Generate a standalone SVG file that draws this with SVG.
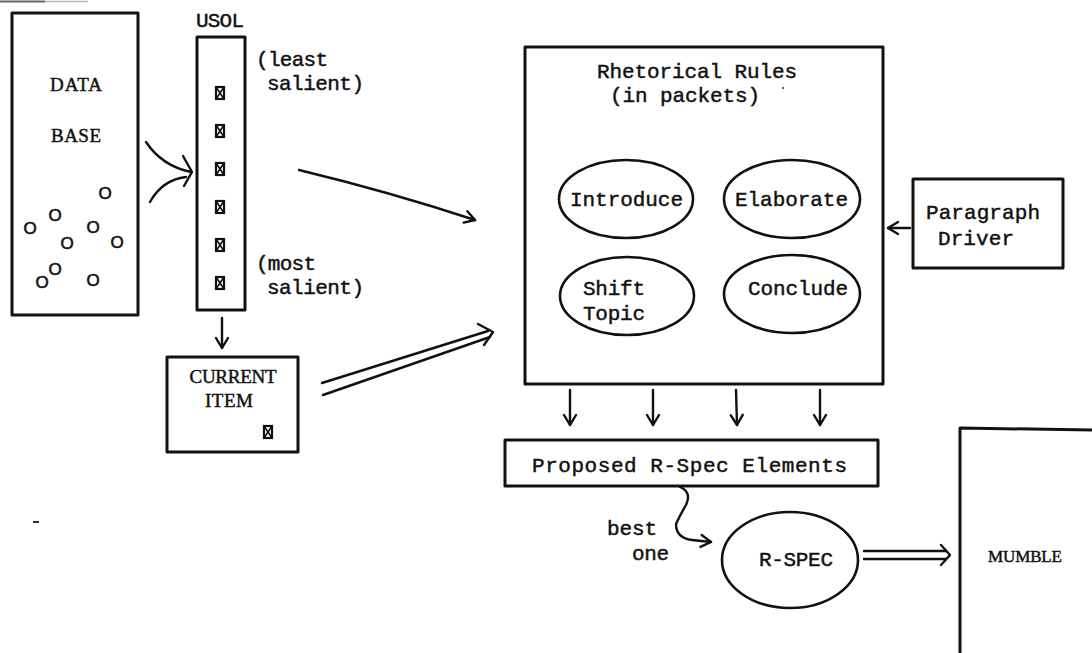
<svg xmlns="http://www.w3.org/2000/svg" width="1092" height="653" viewBox="0 0 1092 653">
  <style>
    .box { fill: none; stroke: #111; stroke-width: 3; stroke-linejoin: round; }
    .oval { fill: none; stroke: #111; stroke-width: 2.6; }
    .line { fill: none; stroke: #111; stroke-width: 2.4; stroke-linecap: round; stroke-linejoin: round; }
    .mono { font-family: "Liberation Mono", "DejaVu Sans Mono", monospace; font-size: 21px; fill: #111; stroke: #111; stroke-width: 0.45; }
    .serif { font-family: "Liberation Serif", "DejaVu Serif", serif; font-size: 19px; fill: #111; stroke: #111; stroke-width: 0.45; }
    .dot { font-family: "Liberation Sans", "DejaVu Sans", sans-serif; font-size: 17px; fill: #111; stroke: #111; stroke-width: 0.6; }
  </style>
  <defs>
    <!-- crossed-box item token -->
    <g id="item">
      <rect x="-4" y="-6" width="8" height="12" fill="none" stroke="#111" stroke-width="2.2"/>
      <path d="M-4,-6 L4,6 M4,-6 L-4,6" stroke="#111" stroke-width="1.6"/>
    </g>
    <marker id="head" viewBox="-12 -8 14 16" refX="0" refY="0" markerWidth="14" markerHeight="16" markerUnits="userSpaceOnUse" orient="auto">
      <path d="M-10,-6 L0,0 L-10,6" fill="none" stroke="#111" stroke-width="2.4" stroke-linecap="round" stroke-linejoin="round"/>
    </marker>
  </defs>

  <rect width="1092" height="653" fill="#fff"/>
  <!-- scan edge marks -->
  <path d="M0,1.5 L45,1.5" stroke="#666" stroke-width="2"/>
  <path d="M45,1.5 L88,1.5" stroke="#bbb" stroke-width="1.5"/>
  <path d="M33,522 L39,522" stroke="#333" stroke-width="2"/>
  <circle cx="783" cy="88" r="1" fill="#333"/>

  <!-- DATA BASE -->
  <g id="database">
    <rect class="box" x="12" y="13" width="126" height="302"/>
    <text class="serif" x="76" y="91" text-anchor="middle" textLength="52">DATA</text>
    <text class="serif" x="76" y="142" text-anchor="middle" textLength="50">BASE</text>
    <text class="dot" x="105" y="199" text-anchor="middle">O</text>
    <text class="dot" x="55" y="221" text-anchor="middle">O</text>
    <text class="dot" x="30" y="234" text-anchor="middle">O</text>
    <text class="dot" x="93" y="233" text-anchor="middle">O</text>
    <text class="dot" x="67" y="249" text-anchor="middle">O</text>
    <text class="dot" x="117" y="248" text-anchor="middle">O</text>
    <text class="dot" x="42" y="288" text-anchor="middle">O</text>
    <text class="dot" x="55" y="275" text-anchor="middle">O</text>
    <text class="dot" x="93" y="286" text-anchor="middle">O</text>
  </g>

  <!-- USOL -->
  <g id="usol">
    <text class="mono" x="220" y="27" text-anchor="middle" textLength="48">USOL</text>
    <rect class="box" x="197" y="37" width="48" height="273"/>
    <use href="#item" x="220" y="93"/>
    <use href="#item" x="220" y="131"/>
    <use href="#item" x="220" y="169"/>
    <use href="#item" x="220" y="207"/>
    <use href="#item" x="220" y="245"/>
    <use href="#item" x="220" y="283"/>
    <text class="mono" x="256" y="66" textLength="72">(least</text>
    <text class="mono" x="267" y="90" textLength="97">salient)</text>
    <text class="mono" x="256" y="270" textLength="60">(most</text>
    <text class="mono" x="267" y="294" textLength="97">salient)</text>
  </g>

  <!-- CURRENT ITEM -->
  <g id="current-item">
    <rect class="box" x="167" y="357" width="131" height="95"/>
    <text class="serif" x="233" y="383" text-anchor="middle" textLength="87">CURRENT</text>
    <text class="serif" x="229" y="407" text-anchor="middle" textLength="48">ITEM</text>
    <use href="#item" x="268" y="432"/>
  </g>

  <!-- Rhetorical Rules -->
  <g id="rhetorical-rules">
    <rect class="box" x="525" y="47" width="358" height="337"/>
    <text class="mono" x="597" y="78" textLength="200">Rhetorical Rules</text>
    <text class="mono" x="610" y="102" textLength="150">(in packets)</text>
  </g>
  <g id="introduce">
    <ellipse class="oval" cx="626" cy="199" rx="67" ry="39"/>
    <text class="mono" x="570" y="206" textLength="113">Introduce</text>
  </g>
  <g id="elaborate">
    <ellipse class="oval" cx="792" cy="199" rx="68" ry="39"/>
    <text class="mono" x="735" y="206" textLength="113">Elaborate</text>
  </g>
  <g id="shift-topic">
    <ellipse class="oval" cx="627" cy="296" rx="67" ry="39"/>
    <text class="mono" x="583" y="295" textLength="62">Shift</text>
    <text class="mono" x="583" y="320" textLength="62">Topic</text>
  </g>
  <g id="conclude">
    <ellipse class="oval" cx="792" cy="294" rx="68" ry="39"/>
    <text class="mono" x="748" y="295" textLength="100">Conclude</text>
  </g>

  <!-- Paragraph Driver -->
  <g id="paragraph-driver">
    <rect class="box" x="913" y="179" width="150" height="89"/>
    <text class="mono" x="926" y="219" textLength="114">Paragraph</text>
    <text class="mono" x="938" y="245" textLength="76">Driver</text>
  </g>

  <!-- Proposed R-Spec Elements -->
  <g id="proposed">
    <rect class="box" x="505" y="440" width="373" height="46"/>
    <text class="mono" x="532" y="472" textLength="315">Proposed R-Spec Elements</text>
  </g>

  <!-- R-SPEC -->
  <g id="r-spec">
    <ellipse class="oval" cx="790" cy="560" rx="68" ry="48"/>
    <text class="mono" x="759" y="566" textLength="74">R-SPEC</text>
  </g>

  <!-- MUMBLE (runs off the page right and bottom) -->
  <g id="mumble">
    <path class="box" d="M960,653 L960,428 L1092,430"/>
    <text class="serif" x="988" y="562" textLength="74" style="font-size:17px">MUMBLE</text>
  </g>

  <!-- connectors -->
  <g id="connectors">
    <!-- data base into USOL -->
    <path class="line" d="M146,142 Q162,166 191,172"/>
    <path class="line" d="M150,202 Q162,180 186,177"/>
    <path class="line" d="M183,156 L192,172 L184,186"/>
    <!-- USOL down to current item -->
    <path class="line" d="M222,318 L222,348" marker-end="url(#head)"/>
    <!-- USOL to rules -->
    <path class="line" d="M299,170 Q390,192 475,220" marker-end="url(#head)"/>
    <!-- current item to rules (double) -->
    <path class="line" d="M322,383 L488,331"/>
    <path class="line" d="M323,395 L490,337"/>
    <path class="line" d="M478,324 L493,332 L484,345"/>
    <!-- paragraph driver to rules -->
    <path class="line" d="M910,228 L888,228" marker-end="url(#head)"/>
    <!-- rules to proposed elements -->
    <path class="line" d="M570,390 L570,425" marker-end="url(#head)"/>
    <path class="line" d="M653,390 L653,425" marker-end="url(#head)"/>
    <path class="line" d="M736,390 L737,425" marker-end="url(#head)"/>
    <path class="line" d="M820,390 L820,425" marker-end="url(#head)"/>
    <!-- best one -->
    <path class="line" d="M680,487 Q692,492 686,505 Q680,515 676,524 Q676,538 692,540 L711,542" marker-end="url(#head)"/>
    <!-- R-SPEC to MUMBLE (double) -->
    <path class="line" d="M864,551 L946,551"/>
    <path class="line" d="M864,559 L946,559"/>
    <path class="line" d="M941,545 L950,555 L941,565"/>
  </g>

  <!-- labels -->
  <text class="mono" x="607" y="535" textLength="50">best</text>
  <text class="mono" x="632" y="560" textLength="37">one</text>
</svg>
